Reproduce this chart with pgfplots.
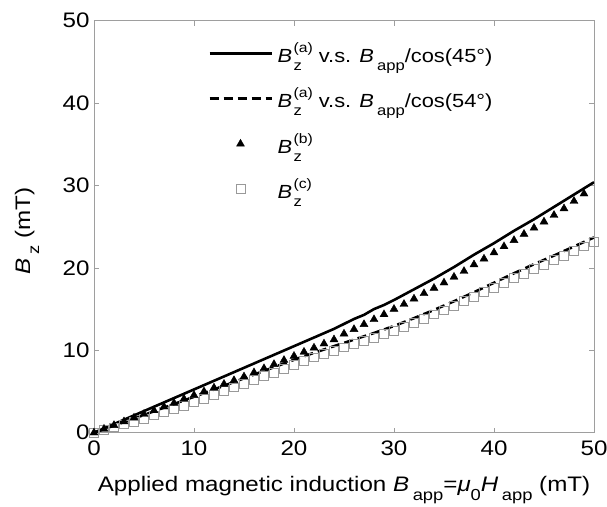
\documentclass[border=0pt]{standalone}
\usepackage{graphicx}
\usepackage{fontspec}
\setmainfont{Liberation Sans}[FakeStretch=1.15]
\usepackage{pgfplots}
\pgfplotsset{compat=1.18}
\definecolor{axgray}{gray}{0.62}
\definecolor{sqgray}{gray}{0.6}
\newsavebox\supbox
\newsavebox\subbox
\newcommand{\sbs}[1]{\raisebox{-0.42em}{\scalebox{0.76}{#1}}}
\newcommand{\sps}[1]{\raisebox{0.52em}{\scalebox{0.72}{#1}}}
\newcommand{\Bz}[1]{\textit{B}\kern0.08em\sbox\supbox{\sps{#1}}\sbox\subbox{\sbs{z}}\rlap{\usebox\supbox}\usebox\subbox\hspace{\dimexpr\wd\supbox-\wd\subbox\relax}}
\newcommand{\Bapp}{\textit{B}\,\sbs{app}}
\begin{document}
\begin{tikzpicture}
\useasboundingbox (-94pt,-73.3pt) rectangle (513pt,432.7pt);
\begin{axis}[
  at={(0pt,0pt)}, anchor=south west,
  scale only axis, width=500pt, height=412pt,
  xmin=0, xmax=50, ymin=0, ymax=50,
  xtick={0,10,...,50}, ytick={0,10,...,50},
  tick align=inside, major tick length=5pt,
  axis line style={axgray, line width=0.8pt},
  tick style={axgray, line width=0.8pt},
  /pgf/number format/assume math mode=true,
  tick label style={font=\fontsize{21}{25}\selectfont, black},
  xticklabel style={yshift=-5pt},
  yticklabel style={xshift=-1pt},
  xlabel={Applied magnetic induction \Bapp=\textit{μ}\sbs{0}\textit{H}\,\sbs{app} (mT)},
  xlabel style={font=\fontsize{21}{25}\selectfont, at={(axis description cs:0.5,0)}, anchor=base, yshift=-59pt},
  ylabel={\textit{B}\,\sbs{z} (mT)},
  ylabel style={font=\fontsize{21}{25}\selectfont, at={(axis description cs:0,0.49)}, anchor=center, yshift=67pt},
  legend cell align=left,
  legend style={draw=none, fill=none, at={(axis cs:11.4,47.6)}, anchor=north west,
    font=\fontsize{19}{23}\selectfont, row sep=20pt, inner sep=0pt},
  legend image code/.code={\path[draw=none,fill=none] (0pt,0pt) -- (66pt,0pt);\draw[mark repeat=2,mark phase=2,#1] plot coordinates {(0pt,0pt)(31pt,0pt)(62pt,0pt)};},
]
\addlegendimage{black, line width=2.6pt}
\addlegendentry{\Bz{(a)} v.s. \Bapp/cos(45°)}
\addlegendimage{black, line width=2.6pt, dash pattern=on 9pt off 5pt}
\addlegendentry{\Bz{(a)} v.s. \Bapp/cos(54°)}
\addlegendimage{only marks, mark=triangle*, mark size=4.6pt, black}
\addlegendentry{\Bz{(b)}}
\addlegendimage{only marks, mark=square, mark size=4.4pt, sqgray, mark options={fill=white, line width=0.8pt}}
\addlegendentry{\Bz{(c)}}

% squares B_z^(c)
\addplot[only marks, mark=square, mark size=4.4pt, sqgray, mark options={fill=white, line width=0.8pt}, forget plot] coordinates {
(0,0)(1,0.3)(2,0.65)(3,1.0)(4,1.35)(5,1.7)(6,2.1)(7,2.5)(8,2.9)(9,3.3)
(10,3.75)(11,4.15)(12,4.6)(13,5.05)(14,5.5)(15,5.95)(16,6.4)(17,6.85)(18,7.3)(19,7.75)
(20,8.25)(21,8.7)(22,9.15)(23,9.55)(24,9.95)(25,10.35)(26,10.75)(27,11.15)(28,11.55)(29,11.95)
(30,12.4)(31,12.85)(32,13.35)(33,13.85)(34,14.35)(35,14.85)(36,15.4)(37,15.95)(38,16.5)(39,17.05)
(40,17.6)(41,18.2)(42,18.75)(43,19.3)(44,19.85)(45,20.4)(46,20.95)(47,21.5)(48,22.05)(49,22.6)(50,23.2)
};
% dashed B_z^(a) vs Bapp/cos54
\addplot[black, line width=2.6pt, dash pattern=on 9pt off 5pt, forget plot] coordinates {
(0,0)(2,0.86)(4,1.72)(6,2.6)(8,3.48)(10,4.36)(12,5.25)(14,6.15)(16,7.05)(18,7.95)
(20,8.85)(22,9.7)(24,10.5)(26,11.3)(28,12.1)(30,12.95)(32,13.9)(34,14.9)(36,15.95)(38,17.05)
(40,18.2)(42,19.35)(44,20.45)(46,21.5)(48,22.6)(50,23.7)
};
% triangles B_z^(b)
\addplot[only marks, mark=triangle*, mark size=4.6pt, black, forget plot] coordinates {
(0,0)(1,0.45)(2,0.9)(3,1.35)(4,1.8)(5,2.25)(6,2.7)(7,3.15)(8,3.6)(9,4.1)
(10,4.55)(11,5.0)(12,5.45)(13,5.9)(14,6.35)(15,6.8)(16,7.3)(17,7.8)(18,8.3)(19,8.8)
(20,9.3)(21,9.8)(22,10.3)(23,10.8)(24,11.3)(25,12.0)(26,12.55)(27,13.15)(28,13.75)(29,14.35)
(30,15.0)(31,15.6)(32,16.25)(33,16.9)(34,17.55)(35,18.2)(36,18.9)(37,19.6)(38,20.4)(39,21.1)
(40,21.85)(41,22.6)(42,23.35)(43,24.1)(44,24.85)(45,25.6)(46,26.4)(47,27.2)(48,28.1)(49,29.0)
};
% solid B_z^(a) vs Bapp/cos45
\addplot[black, line width=2.6pt, forget plot] coordinates {
(0,0)(2,1.05)(4,2.1)(6,3.15)(8,4.2)(10,5.25)(12,6.3)(14,7.35)(16,8.4)(18,9.45)
(20,10.5)(22,11.55)(24,12.6)(26,13.8)(27,14.3)(28,15.0)(29,15.5)(30,16.1)(32,17.4)(34,18.7)
(36,20.1)(38,21.6)(40,23.0)(42,24.5)(44,25.9)(46,27.4)(48,28.9)(50,30.4)
};
\end{axis}
\end{tikzpicture}
\end{document}
